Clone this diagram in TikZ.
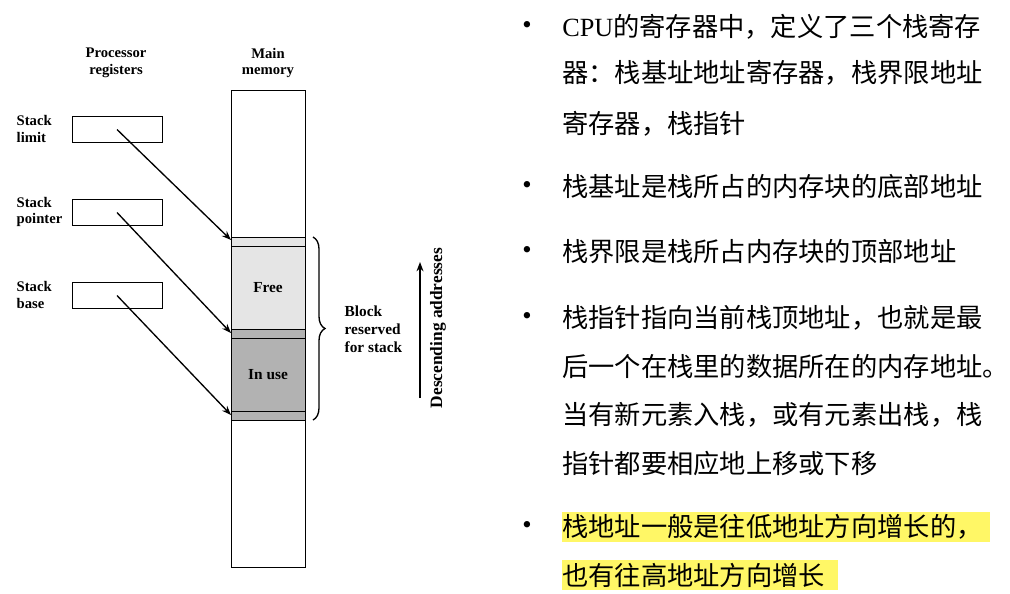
\documentclass[tikz,border=0pt]{standalone}
\usepackage{fontspec}
\setmainfont{Liberation Serif}
\newfontfamily\cjk{Noto Sans CJK SC}
\usetikzlibrary{decorations.pathreplacing,arrows.meta}
\begin{document}
\begin{tikzpicture}[x=0.75pt,y=-0.75pt,
  lab/.style={font=\fontsize{11}{12.5}\selectfont\bfseries,align=center},
  reg/.style={draw,semithick,minimum width=67.5pt,minimum height=20pt,inner sep=0pt},
  ptr/.style={-{Stealth[length=7pt]},line width=1pt},
  txt/.style={anchor=west,font=\cjk\fontsize{19.7}{22}\selectfont,inner sep=0pt},
  bul/.style={font=\fontsize{20}{22}\selectfont,inner sep=0pt}]
\useasboundingbox[fill=white] (0,0) rectangle (1010,593);
% memory
\fill[gray!20] (231,237) rectangle (305,329);
\fill[gray!60] (231,329) rectangle (305,420);
\draw[semithick] (231,90) rectangle (305,567);
\foreach \y in {237,246,329,338,411,420} \draw[semithick] (231,\y) -- (305,\y);
\node[lab] (mm) at (268,63) {Main\\memory};
\node[lab] (pr) at (116,63) {Processor\\registers};
\node[lab,font=\fontsize{11.5}{13}\selectfont\bfseries] (free) at (268,288) {Free};
\node[lab,font=\fontsize{11.5}{13}\selectfont\bfseries] (inuse) at (268,375) {In use};
% registers
\node[reg] (r1) at (117,129.5) {};
\node[reg] (r2) at (117,212.5) {};
\node[reg] (r3) at (117,295.5) {};
\node[lab,align=left,anchor=west] (l1) at (12,129) {Stack\\limit};
\node[lab,align=left,anchor=west] (l2) at (12,212) {Stack\\pointer};
\node[lab,align=left,anchor=west] (l3) at (12,295) {Stack\\base};
\coordinate (t1) at (231,240);
\coordinate (t2) at (231,333);
\coordinate (t3) at (231,415);
\draw[ptr] (r1.center) -- (t1);
\draw[ptr] (r2.center) -- (t2);
\draw[ptr] (r3.center) -- (t3);
% brace
\draw[line width=1pt,decorate,decoration={brace,amplitude=9pt}] (313,237) -- (313,420);
\node[lab,align=left,anchor=west,font=\fontsize{11.5}{13.5}\selectfont\bfseries] (blk) at (340,329) {Block\\reserved\\for stack};
\coordinate (a0) at (420,398);
\coordinate (a1) at (420,262);
\draw[-{Stealth[length=7pt]},line width=1pt] (a0) -- (a1);
\node[lab,rotate=90,font=\fontsize{13}{15}\selectfont\bfseries] (desc) at (438,328) {Descending addresses};
% text
\fill[yellow!60] (562,512) rectangle (990,542);
\fill[yellow!60] (562,560) rectangle (838,590);
\foreach \y in {27,187,252,318,527} \node[bul] at (527,\y) {•};
\node[txt] (t01) at (562,27) {{\rmfamily CPU}的寄存器中，定义了三个栈寄存};
\node[txt] (t02) at (562,73) {器：栈基址地址寄存器，栈界限地址};
\node[txt] (t03) at (562,124) {寄存器，栈指针};
\node[txt] (t04) at (562,187) {栈基址是栈所占的内存块的底部地址};
\node[txt] (t05) at (562,252) {栈界限是栈所占内存块的顶部地址};
\node[txt] (t06) at (562,318) {栈指针指向当前栈顶地址，也就是最};
\node[txt] (t07) at (562,366) {后一个在栈里的数据所在的内存地址。};
\node[txt] (t08) at (562,415) {当有新元素入栈，或有元素出栈，栈};
\node[txt] (t09) at (562,463) {指针都要相应地上移或下移};
\node[txt] (t10) at (562,527) {栈地址一般是往低地址方向增长的，};
\node[txt] (t11) at (562,575) {也有往高地址方向增长};
\end{tikzpicture}
\end{document}
